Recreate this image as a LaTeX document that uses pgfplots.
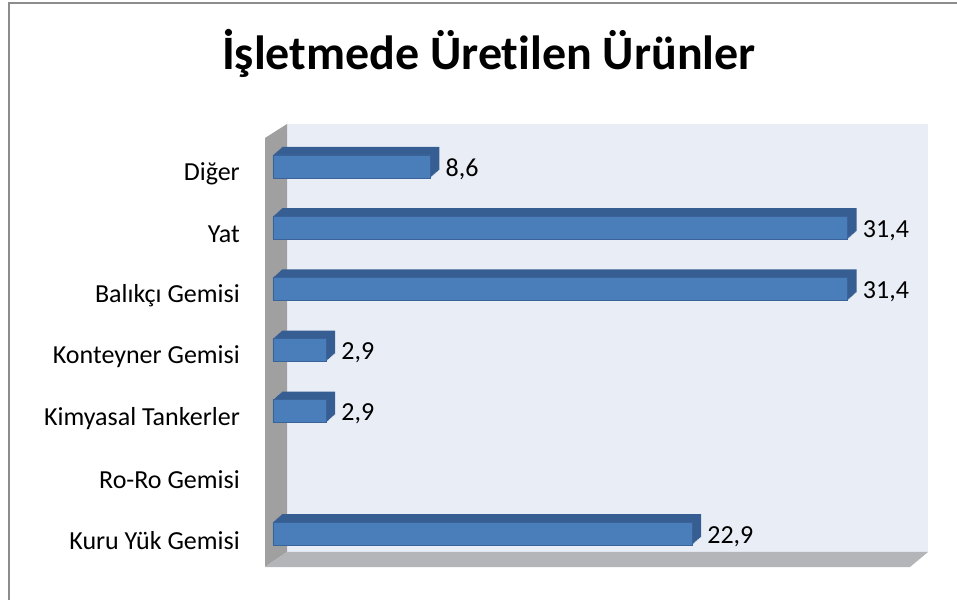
\documentclass[border=0pt]{standalone}
\usepackage{fontspec}
\setmainfont{Carlito}[Ligatures=NoCommon]
\usepackage{pgfplots}
\pgfplotsset{compat=1.18}

\definecolor{barfront}{HTML}{4A7EBB}
\definecolor{baredge}{HTML}{3A6499}
\definecolor{barside}{HTML}{375E92}
\definecolor{wall}{HTML}{E9EDF6}
\definecolor{leftwall}{HTML}{A0A0A0}
\definecolor{floorc}{HTML}{B3B5B9}

\pgfplotstableread{
y v
0 22.9
2 2.9
3 2.9
4 31.4
5 31.4
6 8.6
}\urunler

\begin{document}
\begin{tikzpicture}[x=1pt,y=1pt]
\useasboundingbox (0,0) rectangle (957,599);
\draw[gray!90, line width=2pt] (9,-20) -- (9,596) -- (980,596);
\node[font=\fontsize{48}{56}\selectfont\bfseries, anchor=base] at (489,529) {İşletmede Üretilen Ürünler};

% 3D frame: back wall, side wall, floor
\fill[wall] (287,47) rectangle (928,475);
\fill[leftwall] (265,32) -- (265,461) -- (287,475) -- (287,47) -- cycle;
\fill[floorc] (265,32) -- (287,47) -- (928,47) -- (910,32) -- cycle;

\begin{axis}[
  at={(265pt,32pt)}, anchor=south west,
  scale only axis, width=645pt, height=429pt,
  xmin=-0.437, xmax=34.81, ymin=-0.547, ymax=6.466,
  axis line style={draw=none},
  major tick length=0pt,
  xtick=\empty,
  ytick={0,...,6},
  yticklabels={Kuru Yük Gemisi, Ro-Ro Gemisi, Kimyasal Tankerler, Konteyner Gemisi, Balıkçı Gemisi, Yat, Diğer},
  yticklabel style={font=\fontsize{26}{30}\selectfont, anchor=east, inner sep=0pt, xshift=-25pt, yshift=-7pt},
  /pgf/number format/.cd, use comma, fixed, fixed zerofill, precision=1, assume math mode=true,
]
\pgfplotsinvokeforeach{9,8,7,6,5,4,3,2,1}{
  \addplot[xbar, bar width=23pt, fill=barside, draw=none, xshift=#1pt, yshift={#1*0.889pt}]
    table[x=v, y=y]{\urunler};
}
\addplot[xbar, bar width=23pt, fill=barfront, draw=baredge, line width=0.6pt,
  nodes near coords,
  every node near coord/.append style={anchor=west, inner sep=0pt, xshift=15pt, yshift=-3pt,
    font=\fontsize{26}{30}\selectfont, text=black}]
  table[x=v, y=y]{\urunler};
\end{axis}
\end{tikzpicture}
\end{document}
